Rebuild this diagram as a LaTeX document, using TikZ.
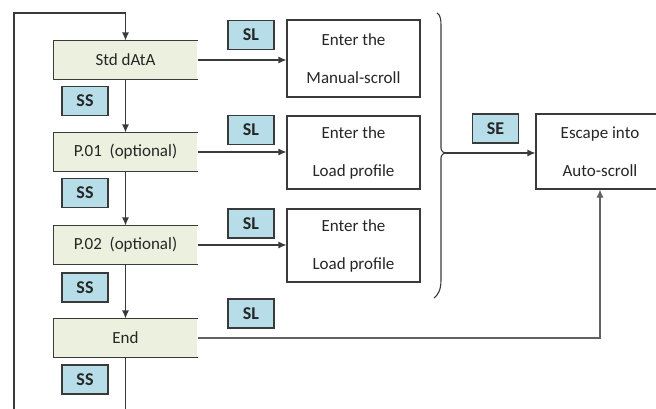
\documentclass[tikz,border=0pt]{standalone}
\usepackage{fontspec}
\setmainfont{Carlito}
\usepackage{tikz}
\usetikzlibrary{positioning, arrows.meta}

\definecolor{stepgreen}{HTML}{EBF1DE}
\definecolor{keyblue}{HTML}{B7DEE8}
\definecolor{linegray}{HTML}{3A3A3A}

\begin{document}
\begin{tikzpicture}[>={Latex[length=8pt,width=7pt]}, x=1pt, y=-1pt, line width=1.1pt,
    every node/.style={font=\fontsize{17}{20}\selectfont, text=black!85},
    greenbox/.style={fill=stepgreen, minimum width=143pt, minimum height=38pt, inner sep=0pt},
    keybox/.style={draw=linegray, fill=keyblue, minimum width=46pt, minimum height=29pt,
        inner sep=0pt, font=\fontsize{18}{20}\selectfont\bfseries},
    infobox/.style={draw=linegray, align=center, minimum width=133pt, minimum height=73pt, inner sep=0pt}]
    \useasboundingbox (0,0) rectangle (656,408);

    % 1. Các bước hiển thị
    \node[greenbox] (std) at (125.5,60) {Std dAtA};
    \node[greenbox] (p01) at (125.5,152) {P.01\ \ (optional)};
    \node[greenbox] (p02) at (125.5,245) {P.02\ \ (optional)};
    \node[greenbox] (end) at (125.5,338) {End};
    \foreach \n in {std,p01,p02,end} {
        \draw[linegray] (\n.north east) -- (\n.north west) -- (\n.south west) -- (\n.south east);
    }

    % 2. Các phím
    \node[keybox] (ss1) at (85,101) {SS};
    \node[keybox] (ss2) at (85,193) {SS};
    \node[keybox] (ss3) at (85,287.5) {SS};
    \node[keybox] (ss4) at (85,379.5) {SS};
    \node[keybox] (sl1) at (251,35) {SL};
    \node[keybox] (sl2) at (251,130) {SL};
    \node[keybox] (sl3) at (251,223.5) {SL};
    \node[keybox] (sl4) at (251,313.5) {SL};
    \node[keybox] (se) at (495.5,128.5) {SE};

    % 3. Các chế độ
    \node[infobox, minimum height=77pt] (man) at (353.5,58.5) {Enter the\\[18pt]Manual-scroll};
    \node[infobox] (lp1) at (353.5,152.5) {Enter the\\[18pt]Load profile};
    \node[infobox] (lp2) at (353.5,245.5) {Enter the\\[18pt]Load profile};
    \node[infobox, minimum width=128pt, minimum height=75pt] (esc) at (600,151.5) {Escape into\\[18pt]Auto-scroll};

    % 4. Mũi tên
    \draw[->, linegray] (std.south) -- (p01.north);
    \draw[->, linegray] (p01.south) -- (p02.north);
    \draw[->, linegray] (p02.south) -- (end.north);
    \draw[->, linegray] (std.east) -- (std.east -| man.west);
    \draw[->, linegray] (p01.east) -- (p01.east -| lp1.west);
    \draw[->, linegray] (p02.east) -- (p02.east -| lp2.west);
    \draw[->, linegray!80] (end.east) -| (esc.south);
    \coordinate (top) at (14,13);
    \draw[->, linegray] (end.south) -- ++(0,60) -| (top) -| (std.north);

    % 5. Dấu ngoặc
    \coordinate (tip) at (444,153);
    \draw[linegray] (437,13) .. controls (441,15) and (441,20) .. (441,30) -- (441,146)
        .. controls (441,150) .. (tip) .. controls (441,156) .. (441,160) -- (441,280)
        .. controls (441,290) and (438,295) .. (434,298);
    \draw[->, linegray] (tip) -- (tip -| esc.west);
\end{tikzpicture}
\end{document}
